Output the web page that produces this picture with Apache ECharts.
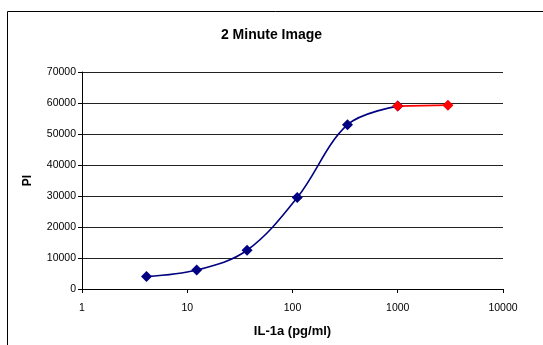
<!DOCTYPE html>
<html>
<head>
<meta charset="utf-8">
<script src="https://cdn.jsdelivr.net/npm/echarts@6/dist/echarts.min.js"></script>
<style>
html, body { margin: 0; padding: 0; background: #fff; }
#main { width: 543px; height: 345px; }
</style>
</head>
<body>
<div id="main"></div>
<script>
// concentrations (pg/ml) and PI readings
var concBlue = [4.1, 12.3, 37, 111, 333, 1000];
var piBlue = [4000, 6100, 12500, 29500, 53000, 59000];
var concRed = [1000, 3000];
var piRed = [59000, 59300];
var yTicks = [0, 10000, 20000, 30000, 40000, 50000, 60000, 70000];

var font = 'Liberation Sans, Arial, sans-serif';
var chart = echarts.init(document.getElementById('main'));

function pairs(xs, ys) {
  return xs.map(function (x, i) { return [x, ys[i]]; });
}

chart.setOption({
  animation: false,
  backgroundColor: '#fff',
  textStyle: { fontFamily: font, color: '#000' },
  title: {
    text: '2 Minute Image',
    left: 'center',
    top: 23,
    textStyle: { fontFamily: font, fontSize: 14, fontWeight: 'bold', color: '#000' }
  },
  graphic: [{
    type: 'rect',
    shape: { x: 7.5, y: 11.5, width: 700, height: 500 },
    style: { fill: 'none', stroke: '#000', lineWidth: 1 },
    silent: true
  }],
  grid: { left: 82, right: 40, top: 72, bottom: 56 },
  xAxis: {
    type: 'log',
    logBase: 10,
    min: 1,
    max: 10000,
    name: 'IL-1a (pg/ml)',
    nameLocation: 'middle',
    nameGap: 36,
    nameTextStyle: { fontFamily: font, fontSize: 13, fontWeight: 'bold', color: '#000' },
    axisLine: { lineStyle: { color: '#000', width: 1 } },
    axisTick: { show: true, length: 4, lineStyle: { color: '#000' } },
    minorTick: { show: false },
    axisLabel: {
      fontFamily: font, fontSize: 10.5, color: '#000', margin: 14,
      formatter: function (v) { return String(v); }
    },
    splitLine: { show: false }
  },
  yAxis: {
    type: 'value',
    min: yTicks[0],
    max: yTicks[yTicks.length - 1],
    interval: 10000,
    name: 'PI',
    nameLocation: 'middle',
    nameRotate: 90,
    nameGap: 48,
    nameTextStyle: { fontFamily: font, fontSize: 12, fontWeight: 'bold', color: '#000' },
    axisLine: { show: true, lineStyle: { color: '#000', width: 1 } },
    axisTick: { show: true, length: 4, lineStyle: { color: '#000' } },
    axisLabel: {
      fontFamily: font, fontSize: 10.5, color: '#000', margin: 6,
      formatter: function (v) { return String(v); }
    },
    splitLine: { show: true, lineStyle: { color: '#222', width: 1 } }
  },
  series: [{
    type: 'line',
    data: pairs(concBlue, piBlue),
    smooth: 0.35,
    symbol: 'diamond',
    symbolSize: 11,
    lineStyle: { color: '#000080', width: 1.6 },
    itemStyle: { color: '#000080' }
  }, {
    type: 'line',
    data: pairs(concRed, piRed),
    smooth: 0.35,
    symbol: 'diamond',
    symbolSize: 11,
    lineStyle: { color: '#ff0000', width: 1.6 },
    itemStyle: { color: '#ff0000' },
    z: 3
  }]
});
</script>
</body>
</html>
